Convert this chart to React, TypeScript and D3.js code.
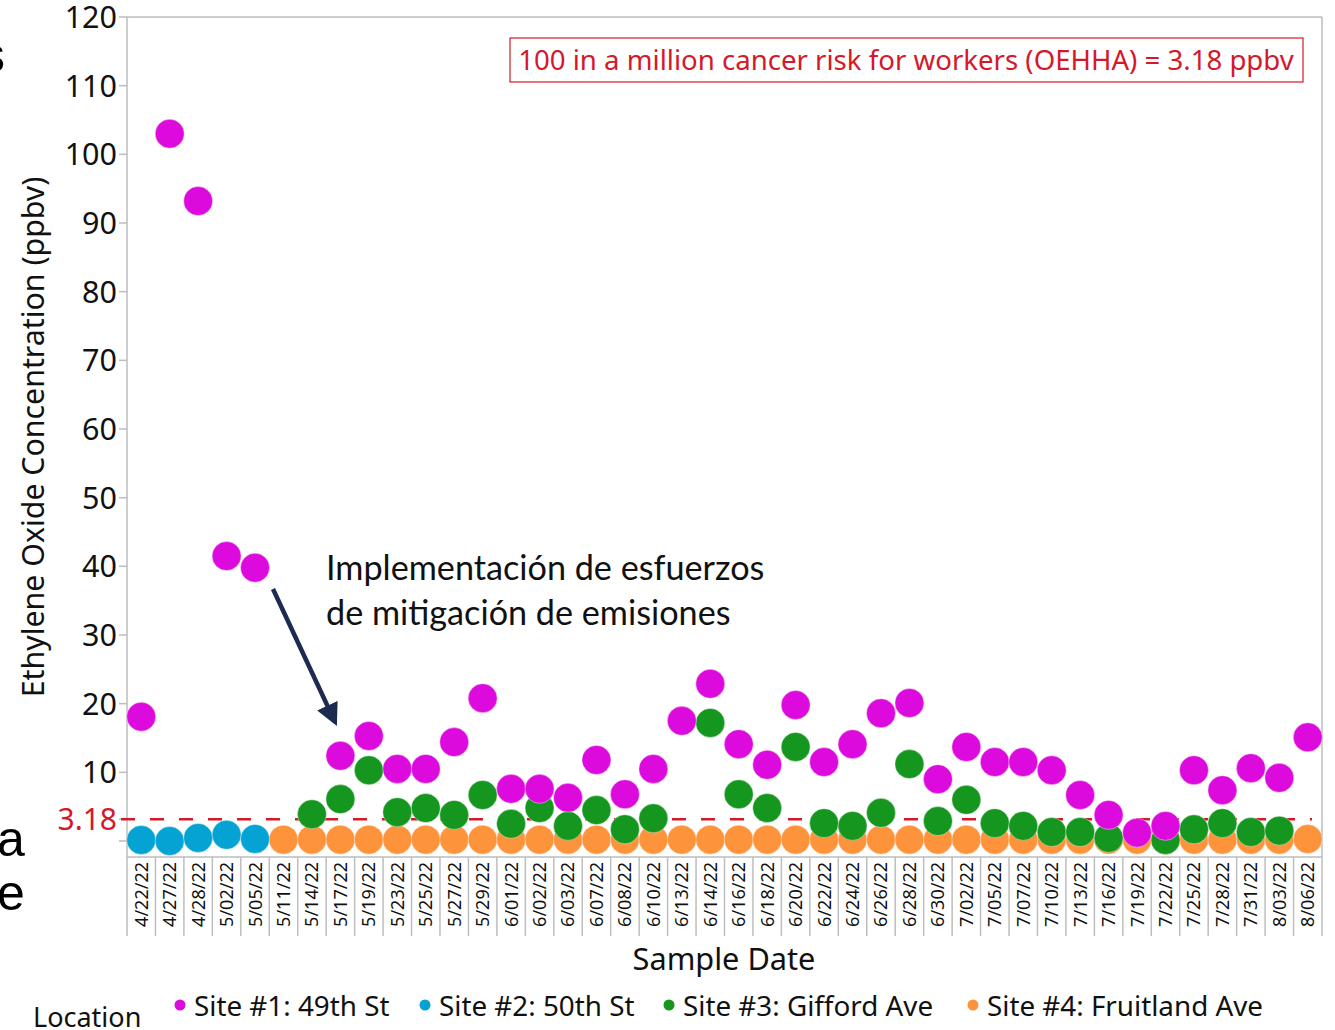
import React from "react";
import * as d3 from "d3";

const dates = [
  "4/22/22", "4/27/22", "4/28/22", "5/02/22", "5/05/22", "5/11/22", "5/14/22", "5/17/22",
  "5/19/22", "5/23/22", "5/25/22", "5/27/22", "5/29/22", "6/01/22", "6/02/22", "6/03/22",
  "6/07/22", "6/08/22", "6/10/22", "6/13/22", "6/14/22", "6/16/22", "6/18/22", "6/20/22",
  "6/22/22", "6/24/22", "6/26/22", "6/28/22", "6/30/22", "7/02/22", "7/05/22", "7/07/22",
  "7/10/22", "7/13/22", "7/16/22", "7/19/22", "7/22/22", "7/25/22", "7/28/22", "7/31/22",
  "8/03/22", "8/06/22",
];

// null = no sample at that site on that date
const site1 = [
  18.1, 103, 93.2, 41.5, 39.8, null, null, 12.4, 15.3, 10.5, 10.5, 14.4, 20.8, 7.6, 7.6, 6.3,
  11.8, 6.8, 10.5, 17.5, 22.9, 14.1, 11.1, 19.8, 11.5, 14.1, 18.6, 20.1, 9.0, 13.7, 11.5, 11.5,
  10.3, 6.7, 3.8, 1.2, 2.2, 10.3, 7.4, 10.6, 9.2, 15.1,
];
const site2 = [
  0.15, 0, 0.45, 0.9, 0.3, null, null, null, null, null, null, null, null, null, null, null,
  null, null, null, null, null, null, null, null, null, null, null, null, null, null, null, null,
  null, null, null, null, null, null, null, null, null, null,
];
const site3 = [
  null, null, null, null, null, null, 3.9, 6.1, 10.3, 4.2, 4.8, 3.8, 6.7, 2.5, 4.8, 2.2,
  4.5, 1.7, 3.3, null, 17.2, 6.8, 4.8, 13.7, 2.6, 2.2, 4.1, 11.2, 2.9, 6.0, 2.6, 2.2,
  1.3, 1.3, 0.45, null, 0.15, 1.7, 2.6, 1.3, 1.5, null,
];
const site4 = [
  null, null, null, null, null, 0.2, 0.2, 0.2, 0.2, 0.2, 0.2, 0.2, 0.2, 0.2, 0.2, 0.2,
  0.2, 0.2, 0.2, 0.2, 0.2, 0.2, 0.2, 0.2, 0.2, 0.2, 0.2, 0.2, 0.2, 0.2, 0.2, 0.2,
  0.2, 0.2, 0.2, 0.2, 0.2, 0.2, 0.2, 0.2, 0.2, 0.3,
];

const yTicks = [0, 10, 20, 30, 40, 50, 60, 70, 80, 90, 100, 110, 120];
const limit = 3.18;

const series = [
  { name: "Site #1: 49th St", color: "#DD0ADD", values: site1 },
  { name: "Site #2: 50th St", color: "#05A3D3", values: site2 },
  { name: "Site #3: Gifford Ave", color: "#14961F", values: site3 },
  { name: "Site #4: Fruitland Ave", color: "#FD933B", values: site4 },
];
// drawing order, bottom to top
const drawOrder = [3, 1, 2, 0];
const legendX = [180, 425, 669, 973];

const FONT = "'Noto Sans', 'Open Sans', sans-serif";
const ANN_FONT = "Lato, 'Noto Sans', sans-serif";
const AXIS = "#bdbdbd";
const RED = "#d4192b";

const left = 127, right = 1322, top = 17, bottom = 857, labelBottom = 936;

export default function App() {
  const x = d3.scaleBand<string>().domain(dates).range([left, right]).padding(0);
  const y = d3.scaleLinear().domain([-2.33, 120]).range([bottom, top]);
  const r = 14.5;
  const cx = (d: string) => (x(d) as number) + x.bandwidth() / 2;

  return (
    <svg width={1335} height={1030} style={{ position: "absolute", left: 0, top: 0 }}>
      <defs>
        <marker id="arrowhead" viewBox="0 0 10 10" refX="8" refY="5" markerWidth="5" markerHeight="5"
          markerUnits="strokeWidth" orient="auto">
          <path d="M0,0 L10,5 L0,10 z" fill="#1c2b4f" />
        </marker>
      </defs>
      <rect width={1335} height={1030} fill="#fff" />

      {/* slide text cut off at the left edge, as in the source picture */}
      <g fontFamily="Arial, 'Liberation Sans', sans-serif" fontSize={50} fill="#000">
        <text x={-20} y={72}>s</text>
        <text x={-3} y={856}>a</text>
        <text x={-3} y={910}>e</text>
      </g>

      {/* frame */}
      <line x1={left} x2={right} y1={top} y2={top} stroke={AXIS} strokeWidth={1.5} />
      <line x1={right} x2={right} y1={top} y2={bottom} stroke={AXIS} strokeWidth={1.5} />
      <line x1={left} x2={left} y1={top} y2={labelBottom} stroke={AXIS} strokeWidth={1.5} />
      <line x1={left} x2={right} y1={bottom} y2={bottom} stroke={AXIS} strokeWidth={1.5} />
      {dates.map((d, i) => (
        <line key={"sep" + i} x1={(x(d) as number) + x.bandwidth()} x2={(x(d) as number) + x.bandwidth()}
          y1={bottom} y2={labelBottom} stroke={AXIS} strokeWidth={1.5} />
      ))}

      {/* y ticks */}
      {yTicks.map((t) => (
        <g key={"yt" + t}>
          <line x1={left - 8} x2={left} y1={y(t)} y2={y(t)} stroke={AXIS} strokeWidth={1.5} />
          {t > 0 && (
            <text x={117} y={y(t)} dy="0.36em" textAnchor="end" fontFamily={FONT} fontSize={30.5} fill="#111">
              {t}
            </text>
          )}
        </g>
      ))}
      <line x1={left - 8} x2={left} y1={y(limit)} y2={y(limit)} stroke={AXIS} strokeWidth={1.5} />
      <text x={117} y={y(limit)} dy="0.36em" textAnchor="end" fontFamily={FONT} fontSize={30} fill={RED}>
        {limit}
      </text>

      {/* limit line */}
      <line x1={left - 6} x2={1312} y1={y(limit)} y2={y(limit)} stroke={RED} strokeWidth={2.5}
        strokeDasharray="14 15" />

      {/* x labels */}
      {dates.map((d) => (
        <text key={"xl" + d} transform={`translate(${cx(d)},${bottom + 5}) rotate(-90)`} textAnchor="end"
          dy="0.36em" fontFamily={FONT} fontSize={18} fill="#111">
          {d}
        </text>
      ))}

      {/* points */}
      {drawOrder.map((si) => (
        <g key={"s" + si}>
          {series[si].values.map((v, i) =>
            v === null ? null : (
              <circle key={i} cx={cx(dates[i])} cy={y(v)} r={r} fill={series[si].color}
                stroke="#fff" strokeOpacity={0.5} strokeWidth={0.8} />
            )
          )}
        </g>
      ))}

      {/* limit box */}
      <rect x={510} y={38} width={793} height={44} fill="none" stroke={RED} strokeWidth={1.2} />
      <text x={906} y={60} dy="0.36em" textAnchor="middle" fontFamily={FONT} fontSize={27.6} fill={RED}>
        100 in a million cancer risk for workers (OEHHA) = 3.18 ppbv
      </text>

      {/* annotation */}
      <text x={326} y={580} fontFamily={ANN_FONT} fontSize={34.2} fill="#111">Implementación de esfuerzos</text>
      <text x={326} y={625} fontFamily={ANN_FONT} fontSize={34.2} fill="#111">de mitigación de emisiones</text>
      <line x1={273} y1={589} x2={335} y2={722} stroke="#1c2b4f" strokeWidth={4.5} markerEnd="url(#arrowhead)" />

      {/* axis titles */}
      <text transform="translate(44,437) rotate(-90)" textAnchor="middle" fontFamily={FONT} fontSize={30.3} fill="#111">
        Ethylene Oxide Concentration (ppbv)
      </text>
      <text x={724} y={970} textAnchor="middle" fontFamily={FONT} fontSize={30.7} fill="#111">
        Sample Date
      </text>

      {/* legend */}
      <text x={33} y={1027} fontFamily={FONT} fontSize={27} fill="#111">Location</text>
      {series.map((s, i) => (
        <g key={"lg" + i}>
          <circle cx={legendX[i]} cy={1005} r={5.5} fill={s.color} />
          <text x={legendX[i] + 14} y={1016} fontFamily={FONT} fontSize={27.8} fill="#111">{s.name}</text>
        </g>
      ))}
    </svg>
  );
}
